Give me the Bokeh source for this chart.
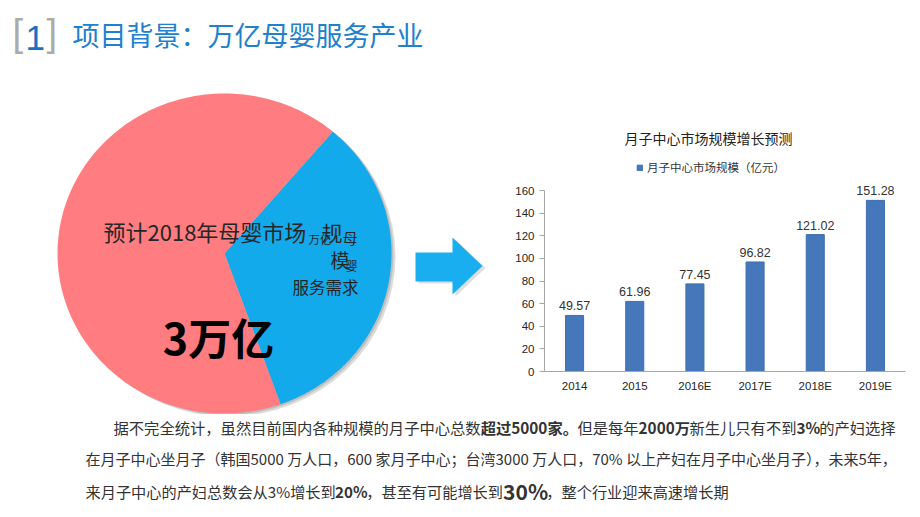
import numpy as np
from bokeh.plotting import figure
from bokeh.layouts import column, row
from bokeh.models import (ColumnDataSource, Range1d, FactorRange, FixedTicker,
                          Label, Legend, LegendItem)
from bokeh.core.properties import value
from bokeh.embed import file_html
from bokeh.resources import INLINE

# ---------------- data ----------------
pie_labels = ["母婴服务需求", "其他母婴消费"]
pie_values = [1, 2]          # 万亿元, total 3万亿
pie_colors = ["#13aaeb", "#ff7c80"]

years = ["2014", "2015", "2016E", "2017E", "2018E", "2019E"]
market_size = [49.57, 61.96, 77.45, 96.82, 121.02, 151.28]
y_ticks = [0, 20, 40, 60, 80, 100, 120, 140, 160]
legend_label = "月子中心市场规模（亿元）"
chart_title = "月子中心市场规模增长预测"

CJK = "Noto Sans CJK SC"
LAT = "Liberation Sans"
TOP_H = 414
LEFT_W = 500
TEXT_DARK = "#262626"


def blank_fig(w, h, **kw):
    p = figure(width=w, height=h, output_backend="svg", toolbar_location=None,
               x_axis_type=None, y_axis_type=None, min_border=0,
               frame_align=False, **kw)
    p.grid.visible = False
    p.outline_line_color = None
    p.background_fill_color = "white"
    p.border_fill_color = "white"
    return p


# ---------------- left part: title, pie, arrow ----------------
f1 = blank_fig(LEFT_W, TOP_H, x_range=Range1d(0, LEFT_W), y_range=Range1d(0, TOP_H))
Y1 = lambda y: TOP_H - y

# slide title
f1.text(x=[12, 46], y=[Y1(32), Y1(32)], text=["[", "]"], text_font=value(LAT),
        text_font_size="38px", text_color="#ababab", text_baseline="middle")
f1.text(x=[25], y=[Y1(37)], text=["1"], text_font=value(LAT), text_font_size="35px",
        text_color="#1a6fc0", text_baseline="middle")
f1.text(x=[72], y=[Y1(34)], text=["项目背景：万亿母婴服务产业"], text_font=value(CJK),
        text_font_size="27px", text_color="#2080cc", text_baseline="middle")

# pie (slightly elliptical, drawn as patches from the values)
cx, cy, rx, ry = 224, Y1(253), 167, 160
start = np.deg2rad(-70.4)
vals = np.array(pie_values, dtype=float)
edges = start + np.concatenate([[0], np.cumsum(vals / vals.sum())]) * 2 * np.pi
xs, ys = [], []
for a0, a1 in zip(edges[:-1], edges[1:]):
    t = np.linspace(a0, a1, 200)
    xs.append(np.concatenate([[cx], cx + rx * np.cos(t)]).tolist())
    ys.append(np.concatenate([[cy], cy + ry * np.sin(t)]).tolist())

f1.ellipse(x=cx + 4, y=cy - 3, width=2 * rx, height=2 * ry, fill_color="#9a9a9a",
           fill_alpha=0.35, line_color=None)
f1.ellipse(x=cx + 2, y=cy - 1.5, width=2 * rx, height=2 * ry, fill_color="#8a8a8a",
           fill_alpha=0.35, line_color=None)
pie_src = ColumnDataSource(dict(xs=xs, ys=ys, color=pie_colors, label=pie_labels))
f1.patches(xs="xs", ys="ys", fill_color="color", line_color=None, source=pie_src)

pie_txt = ColumnDataSource(dict(
    x=[103, 321, 308, 342, 330, 345, 292],
    y=[Y1(230), Y1(231), Y1(238), Y1(237), Y1(259), Y1(265), Y1(286)],
    text=["预计2018年母婴市场", "规", "万亿", "母", "模", "婴", "服务需求"],
    size=["22px", "21px", "11.5px", "15px", "19px", "12px", "16.5px"],
))
f1.text(x="x", y="y", text="text", text_font_size="size", text_font=value(CJK),
        text_color=TEXT_DARK, text_baseline="middle", source=pie_txt)
f1.text(x=[218], y=[Y1(335)], text=["3万亿"], text_font=value(CJK),
        text_font_size="43px", text_font_style="bold", text_color="#000000",
        text_align="center", text_baseline="middle")

# arrow
arrow_x = [415, 452, 452, 482, 452, 452, 415]
arrow_y = [252, 252, 237, 265.5, 294, 281, 281]
f1.patch(x=[v + 3 for v in arrow_x], y=[Y1(v + 2) for v in arrow_y],
         fill_color="#c8c8c8", fill_alpha=0.6, line_color=None)
f1.patch(x=arrow_x, y=[Y1(v) for v in arrow_y], fill_color="#19aeef", line_color=None)

# ---------------- right part: bar chart ----------------
FRAME_L, FRAME_R, FRAME_T, FRAME_B = 544, 905, 125, 371
PX_PER_UNIT = (371 - 190) / 160.0
Y_END = (FRAME_B - FRAME_T) / PX_PER_UNIT

f2 = figure(width=920 - LEFT_W, height=TOP_H, output_backend="svg", toolbar_location=None,
            x_range=FactorRange(*years), y_range=Range1d(0, Y_END),
            min_border_left=FRAME_L - LEFT_W, min_border_right=920 - FRAME_R,
            min_border_top=FRAME_T, min_border_bottom=TOP_H - FRAME_B,
            frame_align=False)
f2.grid.visible = False
f2.outline_line_color = None
f2.background_fill_color = "white"
f2.border_fill_color = "white"

bar_src = ColumnDataSource(dict(year=years, size=market_size,
                                label=[f"{v:.2f}" for v in market_size]))
bars = f2.vbar(x="year", top="size", width=0.3, fill_color="#4677ba",
               line_color="#3f6eae", source=bar_src)
f2.text(x="year", y="size", text="label", source=bar_src, text_font=value(LAT),
        text_font_size="12.5px", text_color="#333333", text_align="center",
        text_baseline="bottom", y_offset=-5)

yax = f2.yaxis[0]
yax.ticker = FixedTicker(ticks=y_ticks)
yax.bounds = (y_ticks[0], y_ticks[-1])
yax.axis_line_color = "#a6a6a6"
yax.major_tick_line_color = "#a6a6a6"
yax.major_tick_out = 5
yax.major_tick_in = 0
yax.minor_tick_line_color = None
yax.major_label_standoff = 5
yax.major_label_text_font = LAT
yax.major_label_text_font_size = "11.5px"
yax.major_label_text_color = "#262626"

xax = f2.xaxis[0]
xax.axis_line_color = "#a6a6a6"
xax.major_tick_line_color = None
xax.major_tick_out = 0
xax.major_label_standoff = 8
xax.major_label_text_font = LAT
xax.major_label_text_font_size = "11.5px"
xax.major_label_text_color = "#262626"

unit_w = (FRAME_R - FRAME_L) / len(years)
f2.add_layout(Label(x=(708 - FRAME_L) / unit_w, y=(FRAME_B - 137) / PX_PER_UNIT,
                    text=chart_title, text_font=CJK, text_font_size="14px",
                    text_color="#222222", text_align="center", text_baseline="middle"))

legend = Legend(items=[LegendItem(label=legend_label, renderers=[bars])],
                location=(92, 196), glyph_width=7, glyph_height=7, label_height=12,
                label_standoff=4, padding=0, margin=0, border_line_color=None,
                background_fill_alpha=0, label_text_font=CJK,
                label_text_font_size="11.5px", label_text_color="#333333")
f2.add_layout(legend)

# ---------------- bottom paragraph ----------------
BOT_H = 517 - TOP_H
f3 = blank_fig(920, BOT_H, x_range=Range1d(0, 920), y_range=Range1d(0, BOT_H))
Y3 = lambda y: 517 - y


def seg_width(s, size, bold):
    w = 0.0
    for ch in s:
        if ord(ch) >= 0x2E80 or ch in "，。；（）：":
            w += 1.0
        elif ch.isdigit():
            w += 0.58 if bold else 0.554
        elif ch == "%":
            w += 0.90 if bold else 0.86
        elif ch == " ":
            w += 0.224
        else:
            w += 0.5
    return w * size


para = [
    (113, 426, [("据不完全统计，虽然目前国内各种规模的月子中心总数", False, 15.3),
                ("超过5000家。", True, 15.3), ("但是每年", False, 15.3),
                ("2000万", True, 15.3), ("新生儿只有不到", False, 15.3),
                ("3%", True, 15.3), ("的产妇选择", False, 15.3)]),
    (85, 458, [("在月子中心坐月子（韩国5000 万人口，600 家月子中心；台湾3000 万人口，70% 以上产妇在月子中心坐月子），未来5年，", False, 15)]),
    (85, 490, [("来月子中心的产妇总数会从3%增长到", False, 15.2), ("20%", True, 15.2),
               ("，甚至有可能增长到", False, 15.2), ("30%", True, 21),
               ("，整个行业迎来高速增长期", False, 15.2)]),
]
px, py, pt, psz, pst = [], [], [], [], []
for x0, yc, segs in para:
    x = x0
    for s, b, sz in segs:
        px.append(x)
        py.append(Y3(yc))
        pt.append(s)
        psz.append(f"{sz}px")
        pst.append("bold" if b else "normal")
        x += seg_width(s, sz, b)
para_src = ColumnDataSource(dict(x=px, y=py, text=pt, size=psz, style=pst))
f3.text(x="x", y="y", text="text", text_font_size="size", text_font_style="style",
        text_font=value(CJK), text_color="#333333", text_baseline="middle",
        source=para_src)

layout = column(row(f1, f2), f3)
open("out.html", "w").write(file_html(layout, INLINE))
